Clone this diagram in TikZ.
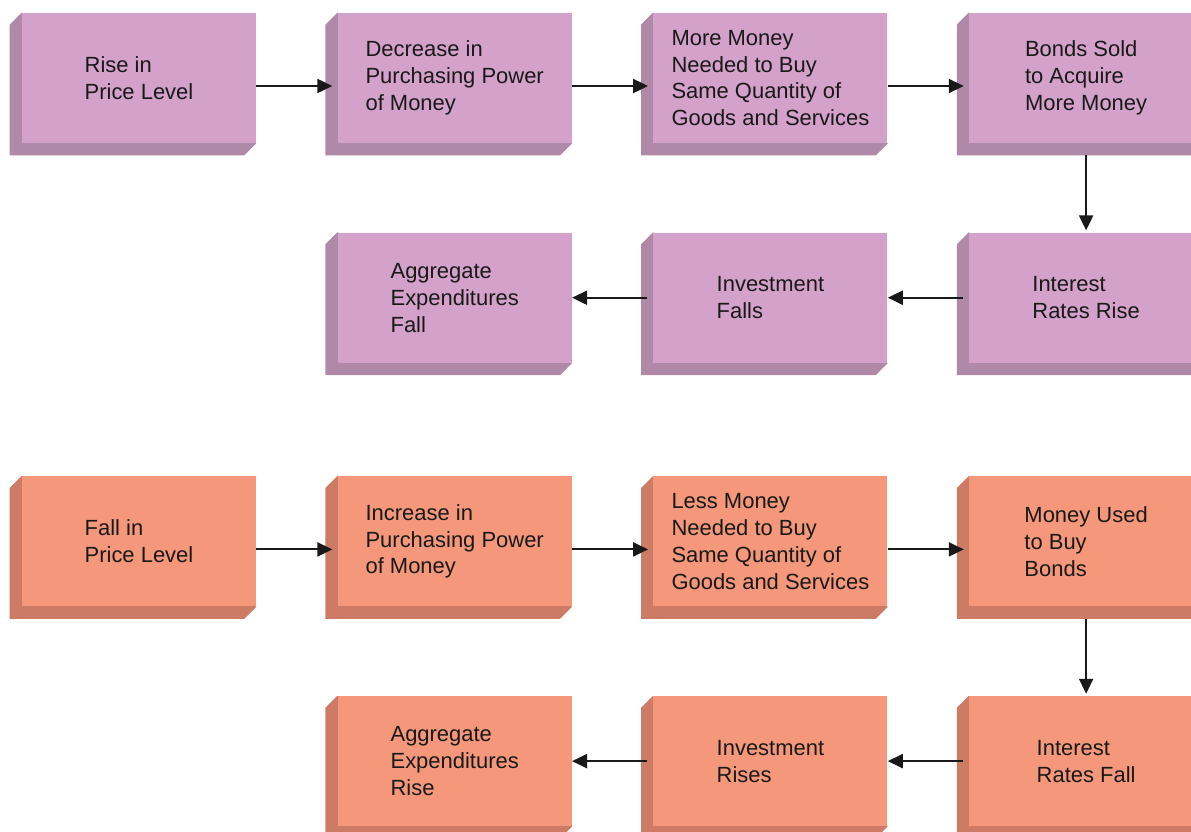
\documentclass[tikz,border=0pt]{standalone}
\usepackage{fontspec}
\setmainfont{Liberation Sans}
\usepackage{tikz}
\usetikzlibrary{arrows.meta, positioning, backgrounds, calc}
\definecolor{risefill}{RGB}{211,161,201}
\definecolor{riseside}{RGB}{176,136,168}
\definecolor{fallfill}{RGB}{245,151,122}
\definecolor{fallside}{RGB}{205,123,100}
\tikzstyle{block} = [rectangle, minimum width=4.68cm, minimum height=2.6cm, inner sep=0pt,
    align=left, font=\fontsize{12.5}{15.3}\selectfont, text=black!90]
\tikzstyle{rise} = [block, fill=risefill]
\tikzstyle{fall} = [block, fill=fallfill]
\tikzstyle{arrow} = [line width=1.2pt, -{Triangle[length=0.3cm, width=0.28cm]}, black!90]

\begin{document}
\begin{tikzpicture}[node distance=1.78cm and 1.62cm]
  \useasboundingbox (0,0) rectangle (23.82,-16.62);

  % rising price level
  \node (r1a) [rise] at (2.78,-1.56) {Rise in\\Price Level};
  \node (r1b) [rise, right=of r1a] {Decrease in\\Purchasing Power\\of Money};
  \node (r1c) [rise, right=of r1b] {More Money\\Needed to Buy\\Same Quantity of\\Goods and Services};
  \node (r1d) [rise, right=of r1c] {Bonds Sold\\to Acquire\\More Money};
  \node (r2d) [rise, below=of r1d] {Interest\\Rates Rise};
  \node (r2c) [rise, left=of r2d] {Investment\\Falls};
  \node (r2b) [rise, left=of r2c] {Aggregate\\Expenditures\\Fall};

  % falling price level
  \node (f1b) [fall, below=2.26cm of r2b] {Increase in\\Purchasing Power\\of Money};
  \node (f1a) [fall, left=of f1b] {Fall in\\Price Level};
  \node (f1c) [fall, right=of f1b] {Less Money\\Needed to Buy\\Same Quantity of\\Goods and Services};
  \node (f1d) [fall, right=of f1c] {Money Used\\to Buy\\Bonds};
  \node (f2d) [fall, below=of f1d] {Interest\\Rates Fall};
  \node (f2c) [fall, left=of f2d] {Investment\\Rises};
  \node (f2b) [fall, left=of f2c] {Aggregate\\Expenditures\\Rise};

  \begin{scope}[on background layer]
    \foreach \n/\c in {r1a/riseside, r1b/riseside, r1c/riseside, r1d/riseside,
                       r2b/riseside, r2c/riseside, r2d/riseside,
                       f1a/fallside, f1b/fallside, f1c/fallside, f1d/fallside,
                       f2b/fallside, f2c/fallside, f2d/fallside}
      \fill[\c] ($(\n.north west)+(-0.24,-0.24)$) -- (\n.north west) -- (\n.south east)
        -- ($(\n.south east)+(-0.24,-0.24)$) -- ($(\n.south west)+(-0.24,-0.24)$) -- cycle;
  \end{scope}

  \foreach \a/\b in {r1a/r1b, r1b/r1c, r1c/r1d, f1a/f1b, f1b/f1c, f1c/f1d}
    \draw[arrow, shorten >=0.1cm] ([yshift=-0.16cm]\a.east) -- ([yshift=-0.16cm]\b.west);
  \foreach \a/\b in {r2d/r2c, r2c/r2b, f2d/f2c, f2c/f2b}
    \draw[arrow] ([xshift=-0.12cm]\a.west) -- (\b.east);
  \draw[arrow, shorten >=0.04cm] ([yshift=-0.24cm]r1d.south) -- (r2d.north);
  \draw[arrow, shorten >=0.04cm] ([yshift=-0.24cm]f1d.south) -- (f2d.north);
\end{tikzpicture}
\end{document}
